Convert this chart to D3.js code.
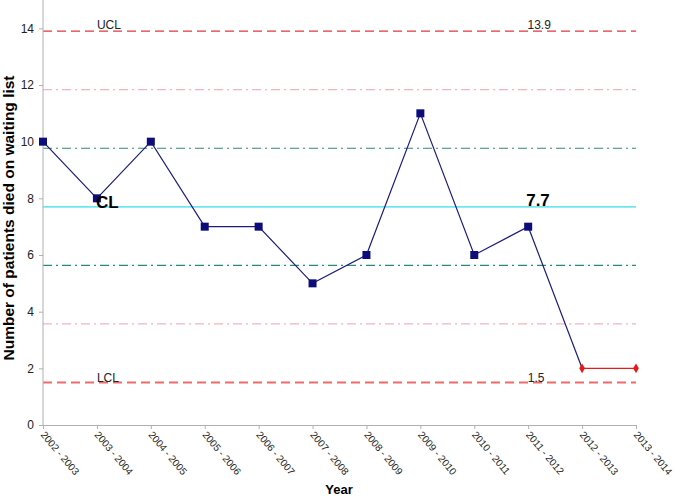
<!DOCTYPE html>
<html lang="en">
<head>
    <meta charset="UTF-8">
    <title>Control chart</title>
    <script src="https://cdn.jsdelivr.net/npm/d3@7"></script>
    <style>
        body { margin: 0; background: #fff; }
        text { font-family: "Liberation Sans", Arial, sans-serif; }
    </style>
</head>
<body>
    <div id="vis"></div>

    <script>

        var years = ["2002 - 2003", "2003 - 2004", "2004 - 2005", "2005 - 2006",
                     "2006 - 2007", "2007 - 2008", "2008 - 2009", "2009 - 2010",
                     "2010 - 2011", "2011 - 2012", "2012 - 2013", "2013 - 2014"];
        var deaths = [10, 8, 10, 7, 7, 5, 6, 11, 6, 7, 2, 2];
        // last two years drawn in red
        var redFrom = 10;

        var yTicks = [0, 2, 4, 6, 8, 10, 12, 14];

        var cl = 7.7;
        var ucl = 13.9;
        var lcl = 1.5;
        var sigma = (ucl - cl) / 3;

        var limits = [
          {v: ucl, color: "#e0393e", dash: "9,5", width: 1.3},
          {v: cl + 2 * sigma, color: "#f2b3bb", dash: "9,4,2,4", width: 1.3},
          {v: cl + sigma, color: "#2a8a78", dash: "9,4,2,4", width: 1.1},
          {v: cl, color: "#6ee8ee", dash: null, width: 1.6},
          {v: cl - sigma, color: "#2a8a78", dash: "9,4,2,4", width: 1.1},
          {v: cl - 2 * sigma, color: "#f2b3bb", dash: "9,4,2,4", width: 1.3},
          {v: lcl, color: "#ee6a6a", dash: "9,5", width: 1.8}
        ];

        var width = 675;
        var height = 499;

        var margin = {top: 0, left: 43, right: 39, bottom: 74};

        var svg = d3.select("#vis")
            .append("svg")
              .attr("width", width)
              .attr("height", height);

        var g = svg.append("g")
              .attr("transform", "translate(" + margin.left + "," + margin.top + ")");

        var w = width - margin.left - margin.right;
        var h = height - margin.top - margin.bottom;

        var x = d3.scalePoint()
            .domain(years)
            .range([0, w]);

        var y = d3.scaleLinear()
            .domain([0, 15])
            .range([h, 0]);

        // limit lines
        g.selectAll(".limit")
            .data(limits)
            .enter()
            .append("line")
              .attr("class", "limit")
              .attr("x1", 0)
              .attr("x2", w)
              .attr("y1", function(d) { return y(d.v); })
              .attr("y2", function(d) { return y(d.v); })
              .attr("stroke", function(d) { return d.color; })
              .attr("stroke-width", function(d) { return d.width; })
              .attr("stroke-dasharray", function(d) { return d.dash; });

        // axes
        var yAxis = d3.axisLeft(y).tickValues(yTicks).tickSize(4).tickPadding(5);
        var gy = g.append("g").attr("class", "y axis").call(yAxis);
        gy.select(".domain").attr("d", "M0," + h + "V0");

        var xAxis = d3.axisBottom(x).tickSize(4).tickSizeOuter(0);
        var gx = g.append("g")
            .attr("class", "x axis")
            .attr("transform", "translate(0," + h + ")")
            .call(xAxis);

        gx.selectAll("text")
            .attr("text-anchor", "start")
            .attr("y", 0)
            .attr("dx", 0)
            .attr("dy", "0.3em")
            .attr("transform", "translate(-1,8) rotate(50)");

        svg.selectAll(".axis path, .axis line").attr("stroke", "#b0b0b0");
        svg.selectAll(".axis text")
            .attr("fill", "#222")
            .style("font-size", "10px");
        gy.selectAll("text").style("font-size", "12px");

        // series line
        var line = d3.line()
            .x(function(d, i) { return x(years[i]); })
            .y(function(d) { return y(d); });

        g.append("path")
            .datum(deaths.slice(0, redFrom + 1))
            .attr("fill", "none")
            .attr("stroke", "#1c1c80")
            .attr("stroke-width", 1.2)
            .attr("d", line);

        g.append("path")
            .datum(deaths.slice(redFrom))
            .attr("fill", "none")
            .attr("stroke", "#e51b1b")
            .attr("stroke-width", 1.2)
            .attr("d", d3.line()
              .x(function(d, i) { return x(years[i + redFrom]); })
              .y(function(d) { return y(d); }));

        g.selectAll(".sq")
            .data(deaths.slice(0, redFrom))
            .enter()
            .append("rect")
              .attr("class", "sq")
              .attr("x", function(d, i) { return x(years[i]) - 4; })
              .attr("y", function(d) { return y(d) - 4; })
              .attr("width", 8)
              .attr("height", 8)
              .attr("fill", "#0c0c7a");

        g.selectAll(".dia")
            .data(deaths.slice(redFrom))
            .enter()
            .append("path")
              .attr("class", "dia")
              .attr("d", d3.symbol().type(d3.symbolDiamond).size(28))
              .attr("transform", function(d, i) {
                  return "translate(" + x(years[i + redFrom]) + "," + y(d) + ")";
              })
              .attr("fill", "#e51b1b");

        // limit labels
        g.append("text").attr("x", x(years[1])).attr("y", y(ucl) - 2)
            .style("font-size", "12px").attr("fill", "#222").text("UCL");
        g.append("text").attr("x", x(years[9]) + 11).attr("y", y(ucl) - 2)
            .attr("text-anchor", "middle")
            .style("font-size", "12px").attr("fill", "#222").text(ucl.toFixed(1));
        g.append("text").attr("x", x(years[1])).attr("y", y(lcl) - 1)
            .style("font-size", "12px").attr("fill", "#222").text("LCL");
        g.append("text").attr("x", x(years[9]) + 8).attr("y", y(lcl) - 1)
            .attr("text-anchor", "middle")
            .style("font-size", "12px").attr("fill", "#222").text(lcl.toFixed(1));

        g.append("text").attr("x", x(years[1]) - 1).attr("y", y(cl) + 1)
            .style("font-size", "17px").style("font-weight", "bold")
            .attr("fill", "#000").text("CL");
        g.append("text").attr("x", x(years[9]) - 2).attr("y", y(cl) - 1)
            .style("font-size", "17px").style("font-weight", "bold")
            .attr("fill", "#000").text(cl.toFixed(1));

        // axis titles
        svg.append("text")
            .attr("transform", "translate(14,218) rotate(-90)")
            .attr("text-anchor", "middle")
            .style("font-size", "15.5px")
            .style("font-weight", "bold")
            .text("Number of patients died on waiting list");

        svg.append("text")
            .attr("x", 339)
            .attr("y", 494)
            .attr("text-anchor", "middle")
            .style("font-size", "13px")
            .style("font-weight", "bold")
            .text("Year");

    </script>
</body>
</html>
